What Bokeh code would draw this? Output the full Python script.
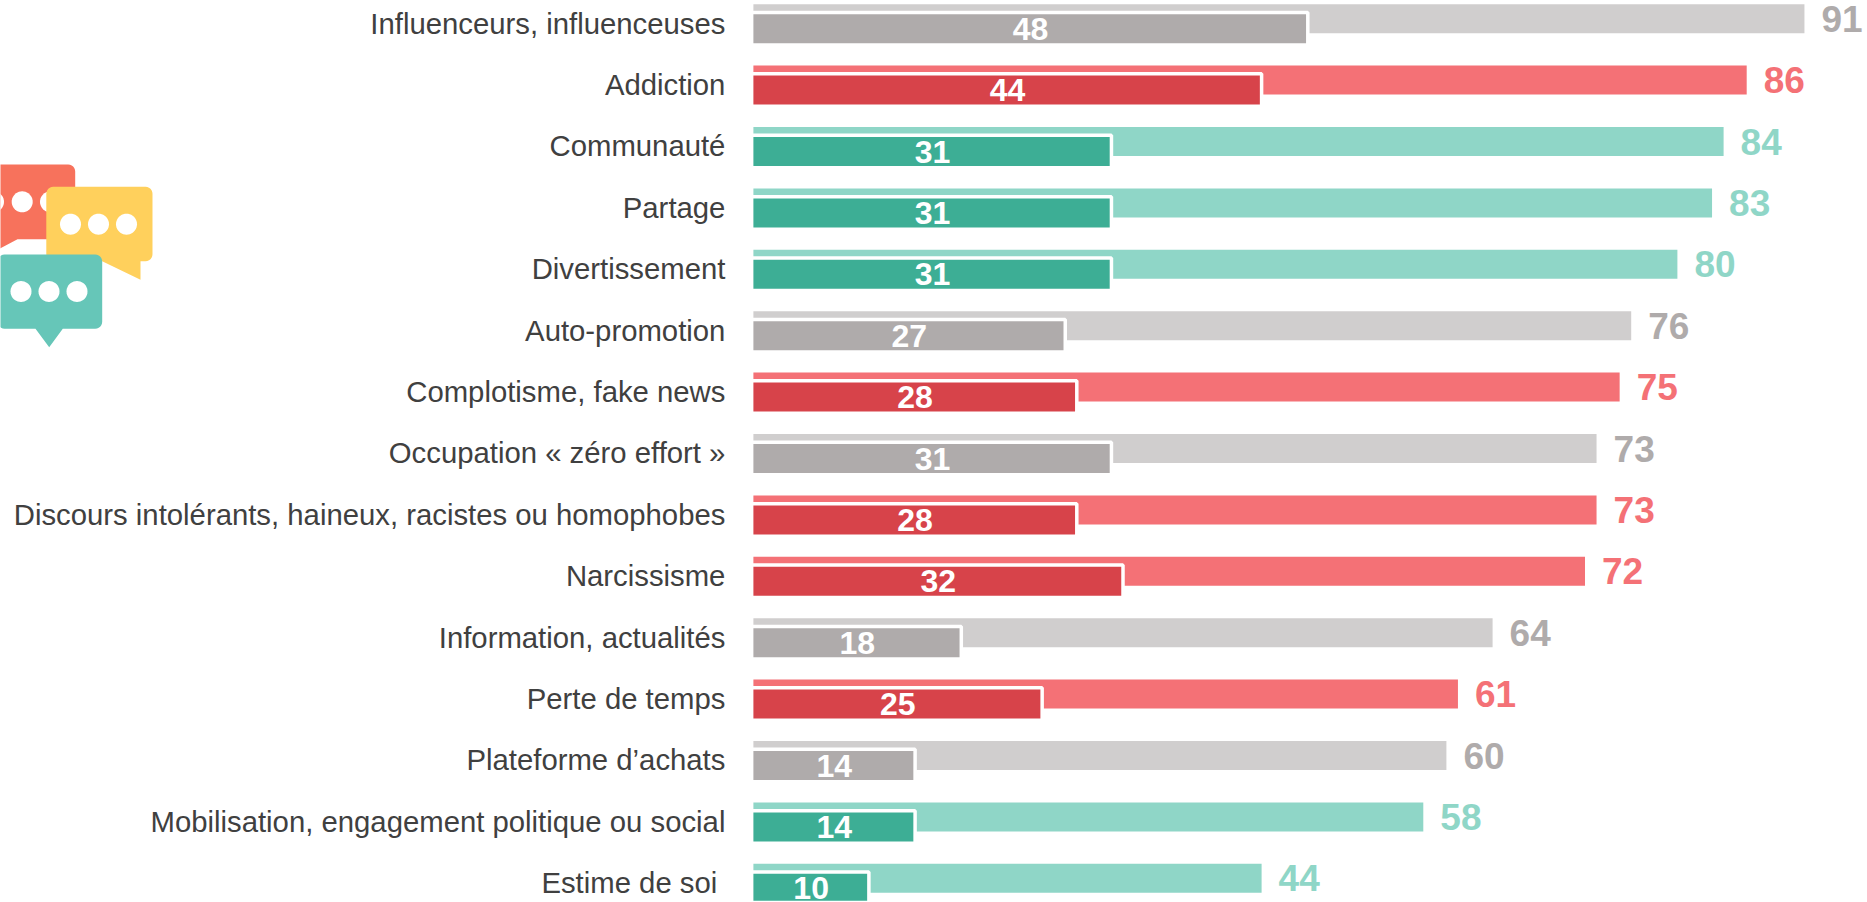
import math
from bokeh.plotting import figure
from bokeh.models import ColumnDataSource, Range1d
from bokeh.core.properties import value
from bokeh.embed import file_html
from bokeh.resources import INLINE

labels = ["Influenceurs, influenceuses", "Addiction", "Communauté", "Partage", "Divertissement",
          "Auto-promotion", "Complotisme, fake news", "Occupation « zéro effort »",
          "Discours intolérants, haineux, racistes ou homophobes", "Narcissisme",
          "Information, actualités", "Perte de temps", "Plateforme d’achats",
          "Mobilisation, engagement politique ou social", "Estime de soi\u00a0"]
total = [91, 86, 84, 83, 80, 76, 75, 73, 73, 72, 64, 61, 60, 58, 44]
first = [48, 44, 31, 31, 31, 27, 28, 31, 28, 32, 18, 25, 14, 14, 10]
group = ["n", "r", "t", "t", "t", "n", "r", "n", "r", "r", "n", "r", "n", "t", "t"]

LIGHT = {"n": "#D0CECE", "r": "#F47176", "t": "#8FD6C7"}
DARK = {"n": "#AFABAB", "r": "#D7434A", "t": "#3DAE95"}
VALUE = {"n": "#AFABAB", "r": "#F47176", "t": "#8FD6C7"}

W, H = 1867, 902
ZERO_PX = 752.9
UNIT_PX = 11.55
PITCH = 61.4
ROW0 = 23.6
STROKE = 3.5

rows = list(range(len(labels)))
src = ColumnDataSource(dict(
    row=rows, total=total, first=first, label=labels,
    label_row=[r - 1 / PITCH for r in rows],
    top_row=[r - 5.4 / PITCH for r in rows],
    low_row=[r + 4.6 / PITCH for r in rows],
    txt_total=[str(v) for v in total], txt_first=[str(v) for v in first],
    mid_first=[v / 2 for v in first],
    light=[LIGHT[g] for g in group], dark=[DARK[g] for g in group], vcol=[VALUE[g] for g in group],
))

p = figure(width=W, height=H, frame_width=W, frame_height=H, output_backend="svg", toolbar_location=None,
           x_range=Range1d(-ZERO_PX / UNIT_PX, (W - ZERO_PX) / UNIT_PX),
           y_range=Range1d((H - ROW0) / PITCH, -ROW0 / PITCH),
           min_border=0, outline_line_color=None, background_fill_color="white", border_fill_color="white")
p.grid.visible = False
p.axis.visible = False


def px_x(px):
    return (px - ZERO_PX) / UNIT_PX


def px_y(py):
    return (py - ROW0) / PITCH


# decorative speech-bubble icon, given in pixels of the page
def rounded(x0, y0, x1, y1, r, tail):
    xs, ys = [], []
    for cx, cy, a0 in [(x0 + r, y0 + r, 180), (x1 - r, y0 + r, 270), (x1 - r, y1 - r, 0), (x0 + r, y1 - r, 90)]:
        for i in range(7):
            a = math.radians(a0 + 15 * i)
            xs.append(cx + r * math.cos(a))
            ys.append(cy + r * math.sin(a))
    return xs[:21] + [t[0] for t in tail] + xs[21:], ys[:21] + [t[1] for t in tail] + ys[21:]


def shape(xs, ys, color):
    p.patch([px_x(x) for x in xs], [px_y(y) for y in ys], fill_color=color, line_color=None)


bubbles = [
    ((-20, 164, 74.7, 238.7), [(17, 238.7), (-4, 250), (-4, 238.7)], "#F7725C", [(-7, 201.3), (21.7, 201.3), (50, 201.3)]),
    ((45.8, 186.2, 152, 260.7), [(140, 260.7), (140, 279.3), (101.7, 260.7)], "#FFD05C", [(70, 223.7), (98, 223.7), (126, 223.7)]),
    ((-3, 254, 101.7, 328.3), [(62.3, 328.3), (48.7, 346.7), (35, 328.3)], "#66C6B8", [(20.5, 291), (48.5, 291), (76.5, 291)]),
]
for box, tail, color, dots in bubbles:
    xs, ys = rounded(*box, 7, tail)
    shape(xs, ys, color)
    for cx, cy in dots:
        angles = [2 * math.pi * i / 40 for i in range(40)]
        shape([cx + 10.5 * math.cos(a) for a in angles], [cy + 10.5 * math.sin(a) for a in angles], "white")

p.text(x=0, y="label_row", text="label", source=src, x_offset=-28, text_align="right", text_baseline="middle",
       text_color="#404040", text_font=value("Liberation Sans"), text_font_size="29.3px")
p.hbar(y="top_row", left=0, right="total", height=29 / PITCH, source=src, fill_color="light", line_color=None)
p.hbar(y="low_row", left=-STROKE / 2 / UNIT_PX, right="first", height=32.5 / PITCH, source=src,
       fill_color="dark", line_color="white", line_width=STROKE)
p.text(x="total", y="top_row", text="txt_total", source=src, x_offset=17, text_align="left", text_baseline="middle",
       text_color="vcol", text_font=value("Liberation Sans"), text_font_style="bold", text_font_size="37px")
p.text(x="mid_first", y="low_row", text="txt_first", source=src, text_align="center", text_baseline="middle",
       text_color="white", text_font=value("Liberation Sans"), text_font_style="bold", text_font_size="32px")

html = file_html(p, INLINE)
html = html.replace("<head>", "<head><style>html,body{margin:0;padding:0;overflow:hidden}</style>", 1)
open("out.html", "w").write(html)
